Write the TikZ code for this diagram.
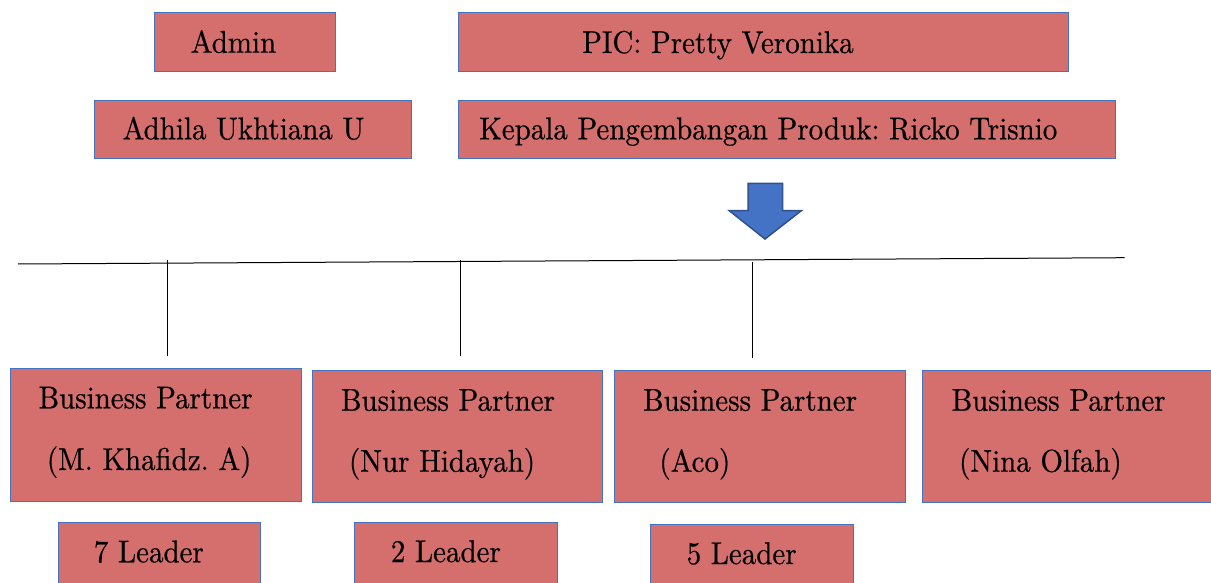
\documentclass[tikz,border=0pt]{standalone}
\usepackage{fontspec}
\newfontfamily\timesfont{lmroman10-regular.otf}[FakeStretch=0.92, FakeBold=0.5]
\frenchspacing
\definecolor{boxred}{RGB}{212,111,109}
\definecolor{boxblue}{RGB}{68,114,196}
\definecolor{arrowfill}{RGB}{68,114,196}
\definecolor{arrowedge}{RGB}{47,82,143}
\begin{document}
\begin{tikzpicture}[x=1pt,y=-1pt,
  box/.style={draw=boxblue, fill=boxred, line width=1pt, inner sep=0pt, anchor=north west, minimum height=58.5pt},
  txt/.style={anchor=base west, inner sep=0pt, font=\timesfont\fontsize{31.5}{38}\selectfont\frenchspacing, text=black},
  conn/.style={draw=black, line width=1pt}]
\useasboundingbox (0,0) rectangle (1211,583);
% top boxes
\node[box, minimum width=181pt] (admin) at (153.5,12.3) {};
\node[box, minimum width=610.7pt] (pic) at (457.7,12.3) {};
\node[box, minimum width=316.8pt] (adhila) at (93.8,99.7) {};
\node[box, minimum width=657.1pt] (kepala) at (457.7,99.7) {};
\node[txt] (tadmin) at (190.6,52.7) {Admin};
\node[txt] (tpic) at (582,53) {PIC: Pretty Veronika};
\node[txt] (tadhila) at (122.5,139.3) {Adhila Ukhtiana U};
\node[txt] (tkepala) at (479.1,139.3) {Kepala Pengembangan Produk: Ricko Trisnio};
% block arrow
\draw[fill=arrowfill, draw=arrowedge, line width=1.5pt, line join=miter]
  (748,183.3) -- (782.7,183.3) -- (782.7,210.7) -- (801.3,210.7) -- (765,239)
  -- (729.3,210.7) -- (748,210.7) -- cycle;
% bus line and ticks
\coordinate (busL) at (18,264);
\coordinate (busR) at (1124.6,257.7);
\draw[conn] (busL) -- (busR);
\coordinate (t1a) at (167.6,260); \coordinate (t1b) at (167.6,355.7);
\coordinate (t2a) at (460,260);   \coordinate (t2b) at (460,355.7);
\coordinate (t3a) at (752,262);   \coordinate (t3b) at (752,357.7);
\draw[conn] (t1a) -- (t1b);
\draw[conn] (t2a) -- (t2b);
\draw[conn] (t3a) -- (t3b);
% business partners
\node[box, minimum width=291pt, minimum height=132.7pt] (bp1) at (9.5,368) {};
\node[box, minimum width=290.2pt, minimum height=132.3pt] (bp2) at (312,370) {};
\node[box, minimum width=290.8pt, minimum height=132.3pt] (bp3) at (614,370) {};
\node[box, minimum width=300pt, minimum height=132.3pt] (bp4) at (921.9,370) {};
\node[txt] (bp1a) at (38.4,408.3) {Business Partner};
\node[txt] (bp1b) at (46.7,470) {(M. Khafidz. A)};
\node[txt] (bp2a) at (340.8,410.7) {Business Partner};
\node[txt] (bp2b) at (348.8,471.7) {(Nur Hidayah)};
\node[txt] (bp3a) at (642.9,410.7) {Business Partner};
\node[txt] (bp3b) at (659.2,471.7) {(Aco)};
\node[txt] (bp4a) at (951.5,410.7) {Business Partner};
\node[txt] (bp4b) at (958.9,471.7) {(Nina Olfah)};
% leaders
\node[box, minimum width=202.5pt, minimum height=75pt] (l1) at (57.7,522) {};
\node[box, minimum width=202.8pt, minimum height=75pt] (l2) at (353.9,522) {};
\node[box, minimum width=202.6pt, minimum height=75pt] (l3) at (649.9,523.7) {};
\node[txt] (tl1) at (93.7,562.3) {7 Leader};
\node[txt] (tl2) at (390.7,562) {2 Leader};
\node[txt] (tl3) at (686.5,564) {5 Leader};
\end{tikzpicture}
\end{document}
